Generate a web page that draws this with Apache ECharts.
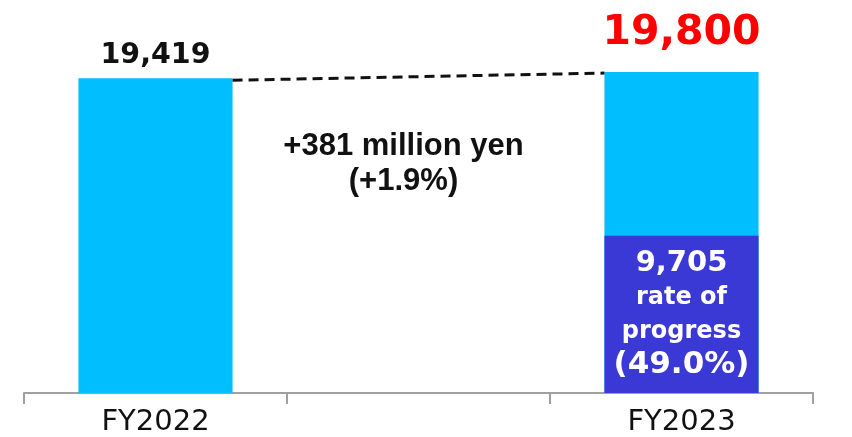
<!DOCTYPE html>
<html>
<head>
<meta charset="utf-8">
<script src="https://cdn.jsdelivr.net/npm/echarts@6/dist/echarts.min.js"></script>
<style>
  html, body { margin: 0; padding: 0; background: #ffffff; }
  #chart { width: 852px; height: 437px; }
</style>
</head>
<body>
<div id="chart"></div>
<script>
// Fiscal years along the axis (middle slot holds the change annotation)
const categories = ['FY2022', '', 'FY2023'];
// Full-year totals (million yen)
const totals = [19419, '-', 19800];
// Progress achieved so far in FY2023
const progress = ['-', '-', 9705];
const progressRate = '49.0%';
// Year-on-year change
const changeAmount = '+381 million yen';
const changeRate = '(+1.9%)';

const BAR_RATIO = 0.586;
const CYAN = '#00BEFF';
const PURPLE = '#3B39D6';

const fmt = v => v.toLocaleString('en-US');

const chart = echarts.init(document.getElementById('chart'), null, { renderer: 'canvas' });

chart.setOption({
  animation: false,
  grid: { left: 24, right: 39, top: 4, bottom: 41 },
  xAxis: {
    type: 'category',
    data: categories,
    axisLine: { show: true, lineStyle: { color: '#a0a0a0', width: 2 } },
    axisTick: { show: true, alignWithLabel: false, interval: 0, length: 11, lineStyle: { color: '#a0a0a0', width: 2 } },
    axisLabel: {
      color: '#111111',
      fontFamily: 'DejaVu Sans',
      fontSize: 29,
      margin: 15
    }
  },
  yAxis: { type: 'value', min: 0, max: 24000, show: false },
  series: [
    {
      name: 'Total',
      type: 'bar',
      barWidth: (BAR_RATIO * 100) + '%',
      barGap: '-100%',
      data: [
        totals[0],
        totals[1],
        {
          value: totals[2],
          label: { color: '#FF0000', fontSize: 41, distance: 18 }
        }
      ],
      itemStyle: { color: CYAN },
      label: {
        show: true,
        position: 'top',
        distance: 8,
        fontFamily: 'DejaVu Sans',
        fontWeight: 'bold',
        formatter: p => fmt(p.value),
        fontSize: 28.5,
        color: '#111111'
      },
      z: 2
    },
    {
      name: 'Progress',
      type: 'bar',
      barWidth: (BAR_RATIO * 100) + '%',
      barGap: '-100%',
      data: progress,
      itemStyle: { color: PURPLE },
      label: {
        show: true,
        position: 'inside',
        formatter: p => '{v|' + fmt(p.value) + '}\n{t|rate of}\n{t|progress}\n{r|(' + progressRate + ')}',
        rich: {
          v: { fontFamily: 'DejaVu Sans', fontWeight: 'bold', fontSize: 29, color: '#ffffff', lineHeight: 33, align: 'center' },
          t: { fontFamily: 'DejaVu Sans', fontWeight: 'bold', fontSize: 24, color: '#ffffff', lineHeight: 34, align: 'center' },
          r: { fontFamily: 'DejaVu Sans', fontWeight: 'bold', fontSize: 31, color: '#ffffff', lineHeight: 33, align: 'center' }
        }
      },
      z: 3
    },
    {
      // Dashed connector between the two totals plus the change annotation
      name: 'Change',
      type: 'custom',
      data: [[0, totals[0], 2, totals[2]]],
      z: 4,
      renderItem: function (params, api) {
        const half = api.size([1, 0])[0] * BAR_RATIO / 2;
        const a = api.coord([api.value(0), api.value(1)]);
        const b = api.coord([api.value(2), api.value(3)]);
        const x1 = a[0] + half, y1 = a[1] + 2;
        const x2 = b[0] - half, y2 = b[1] + 1;
        const mx = (x1 + x2) / 2, my = (y1 + y2) / 2;
        return {
          type: 'group',
          children: [
            {
              type: 'line',
              shape: { x1: x1, y1: y1, x2: x2, y2: y2 },
              style: { stroke: '#111111', lineWidth: 3, lineDash: [10, 6] }
            },
            {
              type: 'text',
              x: mx - 15,
              y: my + 87,
              style: {
                text: changeAmount + '\n' + changeRate,
                fill: '#111111',
                fontFamily: 'Liberation Sans',
                fontWeight: 'bold',
                fontSize: 31,
                lineHeight: 35,
                align: 'center',
                verticalAlign: 'middle'
              }
            }
          ]
        };
      }
    }
  ]
});
</script>
</body>
</html>
